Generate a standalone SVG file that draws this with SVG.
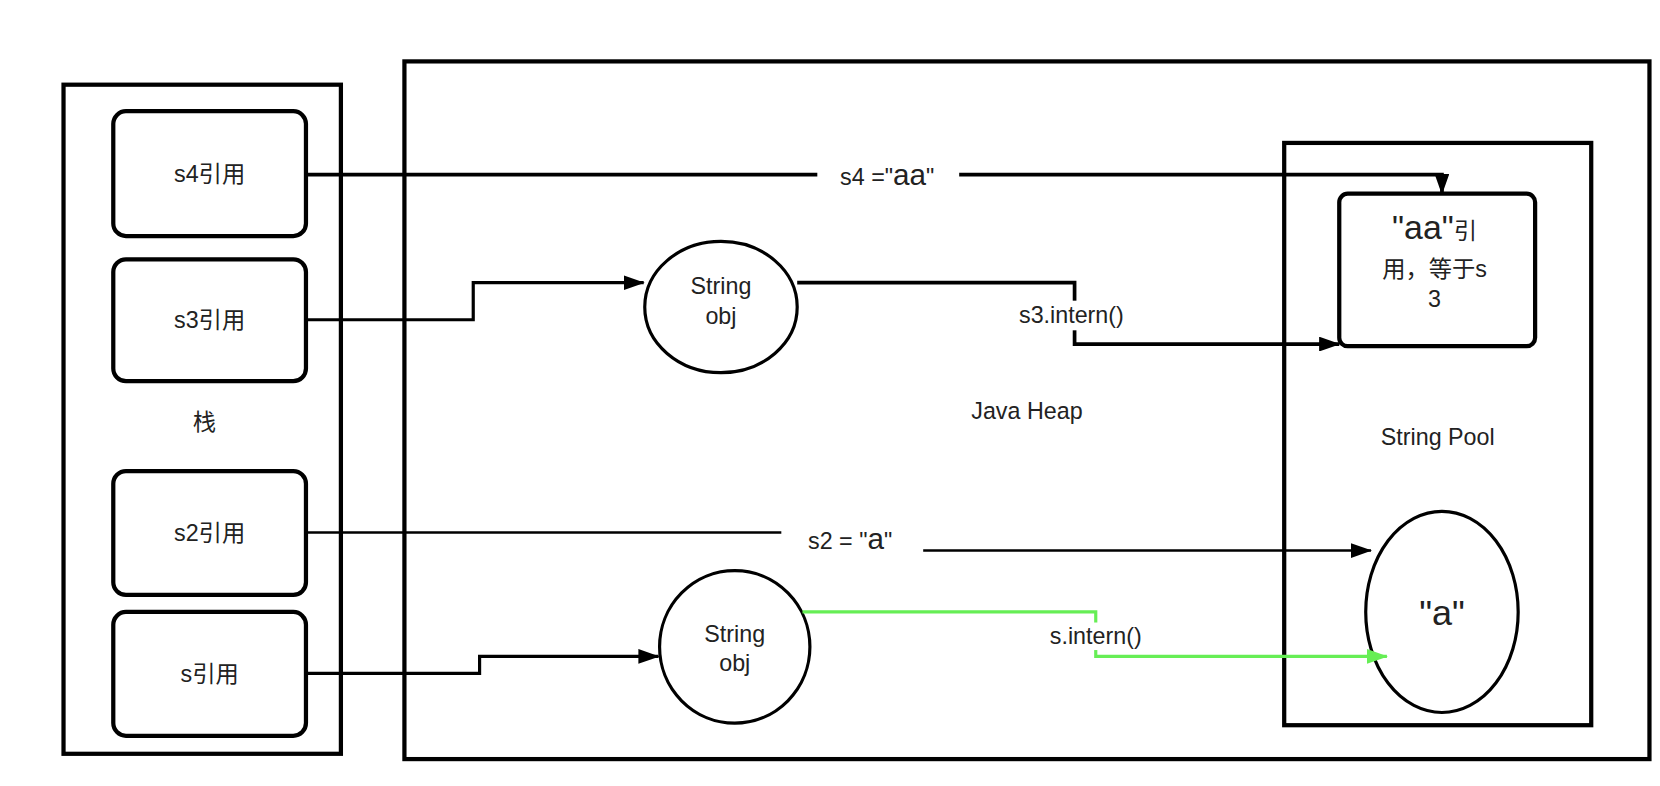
<svg xmlns="http://www.w3.org/2000/svg" width="1660" height="786" viewBox="0 0 1660 786">
<defs>
<marker id="ab" markerWidth="20" markerHeight="14" refX="19" refY="7" orient="auto" markerUnits="userSpaceOnUse" viewBox="0 0 20 14"><path d="M0,0 L20,7 L0,14 z" fill="#000"/></marker>
<marker id="ag" markerWidth="20" markerHeight="14" refX="19" refY="7" orient="auto" viewBox="0 0 20 14" markerUnits="userSpaceOnUse"><path d="M0,0 L20,7 L0,14 z" fill="#66ee55"/></marker>
<style>
text{font-family:"Liberation Sans","Noto Sans CJK SC",sans-serif;fill:#222;text-anchor:middle;font-size:22px}
.box{fill:#fff;stroke:#000;stroke-width:4}
.ref{fill:#fff;stroke:#000;stroke-width:4}
.c{fill:none;stroke:#000;stroke-width:3.5}
.lbl{fill:#fff;stroke:none}
</style>
</defs>
<rect width="1660" height="786" fill="#fff"/>
<g transform="scale(1.0587)">
<g id="stack"><rect class="box" x="60" y="80" width="262" height="632"/><text x="193" y="406">栈</text></g>
<g id="heap"><rect class="box" x="382" y="58" width="1176" height="659"/><text x="970" y="396">Java Heap</text></g>
<g id="pool"><rect class="box" x="1213" y="135" width="290" height="550"/><text x="1358" y="420">String Pool</text></g>
<g id="s4"><rect class="ref" x="107" y="105" width="182" height="118" rx="12"/><text x="198" y="172">s4引用</text></g>
<g id="s3"><rect class="ref" x="107" y="245" width="182" height="115" rx="12"/><text x="198" y="310">s3引用</text></g>
<g id="s2"><rect class="ref" x="107" y="445" width="182" height="117" rx="12"/><text x="198" y="511">s2引用</text></g>
<g id="s"><rect class="ref" x="107" y="578" width="182" height="117" rx="12"/><text x="198" y="644">s引用</text></g>
<g id="aa"><rect class="ref" x="1265" y="183" width="185" height="144" rx="8"/><text x="1355" y="226"><tspan style="font-size:32px">"aa"</tspan>引</text><text x="1355" y="262">用，等于s</text><text x="1355" y="290">3</text></g>
<g id="a"><ellipse class="ref" cx="1362" cy="578" rx="72" ry="95" style="stroke-width:3"/><text x="1362" y="590" style="font-size:34px">"a"</text></g>
<g id="obj1"><ellipse class="ref" cx="681" cy="290" rx="72" ry="62" style="stroke-width:3"/><text x="681" y="278">String</text><text x="681" y="306">obj</text></g>
<g id="obj2"><ellipse class="ref" cx="694" cy="611" rx="71" ry="72" style="stroke-width:3"/><text x="694" y="606">String</text><text x="694" y="634">obj</text></g>
<g id="connectors">
<path class="c" d="M289,165 H1362 V183" marker-end="url(#ab)"/>
<rect class="lbl" x="772" y="152" width="134" height="28"/><text x="838" y="175">s4 ="<tspan style="font-size:28px">aa</tspan>"</text>
<path class="c" d="M289,302 H447 V267 H608" style="stroke-width:3" marker-end="url(#ab)"/>
<path class="c" d="M753,267 H1015 V325 H1265" marker-end="url(#ab)"/>
<rect class="lbl" x="945" y="284" width="135" height="28"/><text x="1012" y="305">s3.intern()</text>
<path class="c" d="M289,503 H805 V520 H1295" style="stroke-width:2.5" marker-end="url(#ab)"/>
<rect class="lbl" x="738" y="495" width="134" height="32"/><text x="803" y="519">s2 = "<tspan style="font-size:28px">a</tspan>"</text>
<path class="c" d="M289,636 H453 V620 H622" style="stroke-width:3" marker-end="url(#ab)"/>
<path class="c" d="M758,578 H1035 V620 H1310" style="stroke:#66ee55;stroke-width:3" marker-end="url(#ag)"/>
<rect class="lbl" x="972" y="588" width="128" height="26"/><text x="1035" y="608">s.intern()</text>
</g>
</g>
</svg>
